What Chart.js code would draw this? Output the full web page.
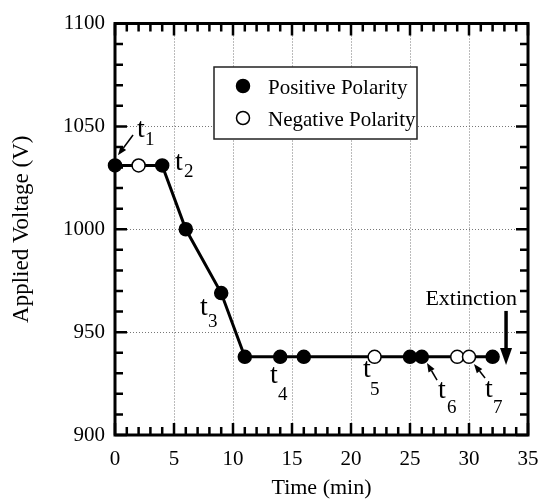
<!DOCTYPE html>
<html><head><meta charset="utf-8">
<script src="https://cdn.jsdelivr.net/npm/chart.js@4/dist/chart.umd.min.js"></script>
<style>html,body{margin:0;padding:0;background:#fff}</style>
</head><body>
<canvas id="c" width="541" height="503" style="display:block;width:541px;height:503px"></canvas>
<script>
// ---- data ----
const timeMin  = [0, 2, 4, 6, 9, 11, 14, 16, 22, 25, 26, 29, 30, 32];
const voltage  = [1031, 1031, 1031, 1000, 969, 938, 938, 938, 938, 938, 938, 938, 938, 938];
const polarity = ['+', '-', '+', '+', '+', '+', '+', '+', '-', '+', '+', '-', '-', '+'];
const xTickValues = [0, 5, 10, 15, 20, 25, 30, 35];
const yTickValues = [900, 950, 1000, 1050, 1100];
const legendLabels = ['Positive Polarity', 'Negative Polarity'];
const xTitle = 'Time (min)';
const yTitle = 'Applied Voltage (V)';
const tNames = ['1', '2', '3', '4', '5', '6', '7'];
// annotation anchors (data coords) for the "t" letters
const tX = [1.86, 5.08, 7.20, 13.14, 21.02, 27.37, 31.36];
const tY = [1045.0, 1028.8, 958.3, 925.1, 928.3, 918.0, 918.6];
const extinctionText = 'Extinction';

const SERIF = '"Liberation Serif", "Times New Roman", serif';
const pts = timeMin.map((t, i) => ({x: t, y: voltage[i]}));

// styling / layout of annotations
const subOffsets = [[8,8],[9,7],[8,12],[8,17],[7,18],[9,15],[8,16]];
const smallArrows = [ // data coords: from -> to
  [[1.53,1045.8],[0.25,1036.0]],
  [[27.29,926.7],[26.44,935.0]],
  [[31.36,927.7],[30.42,934.5]]
];
const bigArrow = [[33.14,960.3],[33.14,934.0]];
const extinctionPos = [30.19, 963.2];

function arrow(ctx, x1, y1, x2, y2, lw, hl, hw) {
  const a = Math.atan2(y2 - y1, x2 - x1);
  const bx = x2 - hl * Math.cos(a), by = y2 - hl * Math.sin(a);
  ctx.save();
  ctx.strokeStyle = '#000'; ctx.fillStyle = '#000'; ctx.lineWidth = lw;
  ctx.beginPath(); ctx.moveTo(x1, y1); ctx.lineTo(bx, by); ctx.stroke();
  ctx.beginPath();
  ctx.moveTo(x2, y2);
  ctx.lineTo(bx + hw/2 * Math.sin(a), by - hw/2 * Math.cos(a));
  ctx.lineTo(bx - hw/2 * Math.sin(a), by + hw/2 * Math.cos(a));
  ctx.closePath(); ctx.fill();
  ctx.restore();
}

const deco = {
  id: 'deco',
  beforeDatasetsDraw(chart) {
    const {ctx, chartArea: a, scales: {x, y}} = chart;
    ctx.save();
    // dotted grid
    ctx.strokeStyle = '#777'; ctx.lineWidth = 1; ctx.setLineDash([1, 2]);
    xTickValues.slice(1, -1).forEach(v => {
      const px = Math.round(x.getPixelForValue(v)) + 0.5;
      ctx.beginPath(); ctx.moveTo(px, a.top); ctx.lineTo(px, a.bottom); ctx.stroke();
    });
    yTickValues.slice(1, -1).forEach(v => {
      const py = Math.round(y.getPixelForValue(v)) + 0.5;
      ctx.beginPath(); ctx.moveTo(a.left, py); ctx.lineTo(a.right, py); ctx.stroke();
    });
    ctx.setLineDash([]);
    // inward ticks on all four sides
    ctx.strokeStyle = '#000'; ctx.lineWidth = 2.5;
    for (let v = 0; v <= 35; v += 1) {
      const px = x.getPixelForValue(v);
      const len = v % 5 === 0 ? 12 : 8;
      ctx.beginPath();
      ctx.moveTo(px, a.bottom); ctx.lineTo(px, a.bottom - len);
      ctx.moveTo(px, a.top); ctx.lineTo(px, a.top + len);
      ctx.stroke();
    }
    for (let v = 900; v <= 1100; v += 10) {
      const py = y.getPixelForValue(v);
      const len = v % 50 === 0 ? 12 : 8;
      ctx.beginPath();
      ctx.moveTo(a.left, py); ctx.lineTo(a.left + len, py);
      ctx.moveTo(a.right, py); ctx.lineTo(a.right - len, py);
      ctx.stroke();
    }
    // frame
    ctx.lineWidth = 3;
    ctx.strokeRect(a.left, a.top, a.right - a.left, a.bottom - a.top);
    ctx.restore();
  },
  afterDatasetsDraw(chart) {
    const {ctx, scales: {x, y}} = chart;
    ctx.save();
    // legend box
    ctx.fillStyle = '#fff'; ctx.strokeStyle = '#222'; ctx.lineWidth = 1.5;
    ctx.fillRect(214, 67, 203, 72); ctx.strokeRect(214, 67, 203, 72);
    [0, 1].forEach(i => {
      const cy = i === 0 ? 86 : 118;
      ctx.beginPath(); ctx.arc(243, cy, 6.5, 0, Math.PI * 2);
      ctx.fillStyle = i === 0 ? '#000' : '#fff'; ctx.fill();
      ctx.lineWidth = 1.5; ctx.strokeStyle = '#000'; ctx.stroke();
      ctx.fillStyle = '#000'; ctx.font = '21px ' + SERIF;
      ctx.textAlign = 'left'; ctx.textBaseline = 'alphabetic';
      ctx.fillText(legendLabels[i], 268, cy + 7.5);
    });
    // t labels
    ctx.fillStyle = '#000'; ctx.textAlign = 'left'; ctx.textBaseline = 'alphabetic';
    tNames.forEach((n, i) => {
      const px = x.getPixelForValue(tX[i]), py = y.getPixelForValue(tY[i]);
      ctx.font = '28px ' + SERIF; ctx.fillText('t', px, py);
      ctx.font = '19px ' + SERIF; ctx.fillText(n, px + subOffsets[i][0], py + subOffsets[i][1]);
    });
    smallArrows.forEach(([f, t]) => arrow(ctx,
      x.getPixelForValue(f[0]), y.getPixelForValue(f[1]),
      x.getPixelForValue(t[0]), y.getPixelForValue(t[1]), 1.5, 9, 7));
    arrow(ctx, x.getPixelForValue(bigArrow[0][0]), y.getPixelForValue(bigArrow[0][1]),
      x.getPixelForValue(bigArrow[1][0]), y.getPixelForValue(bigArrow[1][1]), 3.5, 17, 12);
    ctx.font = '22px ' + SERIF; ctx.textAlign = 'center';
    ctx.fillText(extinctionText, x.getPixelForValue(extinctionPos[0]), y.getPixelForValue(extinctionPos[1]));
    ctx.restore();
  }
};

new Chart(document.getElementById('c'), {
  type: 'line',
  data: {
    datasets: [{
      data: pts,
      borderColor: '#000',
      borderWidth: 3,
      pointRadius: 6.5,
      pointHoverRadius: 6.5,
      pointBorderWidth: 1.5,
      pointBorderColor: '#000',
      pointBackgroundColor: polarity.map(p => p === '+' ? '#000' : '#fff'),
      tension: 0,
      fill: false,
      clip: false
    }]
  },
  options: {
    responsive: false,
    devicePixelRatio: 1,
    animation: false,
    events: [],
    layout: {padding: {top: 23.5, right: 13, left: 0, bottom: 0}},
    plugins: {legend: {display: false}, tooltip: {enabled: false}},
    scales: {
      x: {
        type: 'linear', min: 0, max: 35,
        afterBuildTicks: s => { s.ticks = xTickValues.map(v => ({value: v})); },
        afterFit: s => { s.height = 68; s.paddingLeft = 0; s.paddingRight = 0; },
        ticks: {color: '#000', font: {family: SERIF, size: 21}, padding: 12, maxRotation: 0, autoSkip: false,
                callback: v => String(v)},
        grid: {display: false, drawTicks: false}, border: {display: false},
        title: {display: true, text: xTitle, color: '#000', font: {family: SERIF, size: 22}, padding: {top: 0, bottom: 2}}
      },
      y: {
        type: 'linear', min: 900, max: 1100,
        afterBuildTicks: s => { s.ticks = yTickValues.map(v => ({value: v})); },
        afterFit: s => { s.width = 115; s.paddingTop = 0; s.paddingBottom = 0; },
        ticks: {color: '#000', font: {family: SERIF, size: 21}, padding: 10, callback: v => String(v)},
        grid: {display: false, drawTicks: false}, border: {display: false},
        title: {display: true, text: yTitle, color: '#000', font: {family: SERIF, size: 23}, padding: {top: 8, bottom: 0}}
      }
    }
  },
  plugins: [deco]
});
</script>
</body></html>
